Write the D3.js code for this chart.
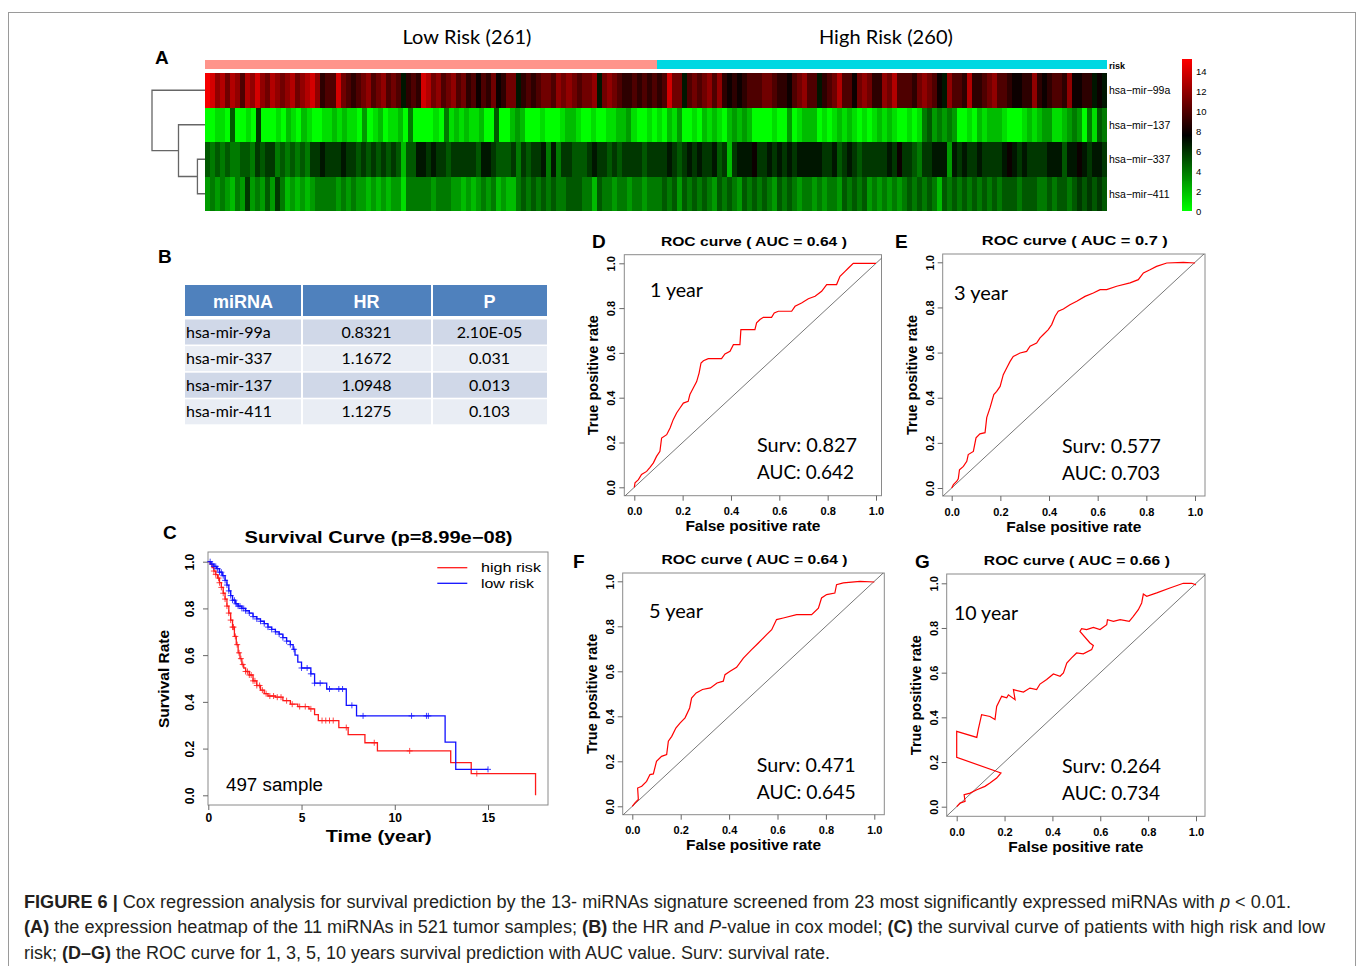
<!DOCTYPE html>
<html>
<head>
<meta charset="utf-8">
<script src="https://cdn.jsdelivr.net/npm/d3@7"></script>
<style>
body { margin: 0; background: #fff; }
svg text { font-family: "Liberation Sans", Arial, sans-serif; }
</style>
</head>
<body>
<script>
// ---- data ----
var groupNames = ["Low Risk (261)", "High Risk (260)"];
var groupSizes = [261, 260];
var heatRows = ["hsa\u2212mir\u221299a", "hsa\u2212mir\u2212137", "hsa\u2212mir\u2212337", "hsa\u2212mir\u2212411"];
// one hex digit = expression level 0..15, low risk samples then high risk samples
var heatLow = [
  "fecdbdcadcecbdcbcdbcdec9aaeba9abcabcaba79a9edbcabcab9a8a9b89bb79a9abbacbcbabbc7bcba99a9a9a",
  "00110500106000102102100112121103012011204000010412121120050023200010001221001001122310010",
  "545454455465664545454667666766565656565255776766566666577655564656674746655567665656666566",
  "343432436343536423232344443434332323233144444344433232343423224545454544555442544344344344"
];
var heatHigh = [
  "9aebb7ababcac98989aaabba998abcaa79abdaa8bcb99cbdaaa9bcba87caa9d99abcaa98899c989aa9c8899787",
  "102130010212102323200001003012220101212101012121001014534343001021222100012123311234304154",
  "667656767667562677786676767677777667567656666676866546677737676676666787676666777577876776",
  "454535454543545435454543545434434344354545343434345454542545454545454555455544545545656565"
];
var dendroHeights = [1.0, 3.5, 7.0];   // merges: 337+411, 137+(..), 99a+(..)
var colorTicks = [0, 2, 4, 6, 8, 10, 12, 14];

var tableHeader = ["miRNA", "HR", "P"];
var tableMirna = ["hsa-mir-99a", "hsa-mir-337", "hsa-mir-137", "hsa-mir-411"];
var tableHR = ["0.8321", "1.1672", "1.0948", "1.1275"];
var tableP = ["2.10E-05", "0.031", "0.013", "0.103"];

var highTime = [0, 0.1, 0.2, 0.3, 0.4, 0.5, 0.6, 0.7, 0.8, 0.9, 1.0, 1.1, 1.2, 1.3, 1.4, 1.5, 1.6, 1.7, 1.8, 1.9, 2.0, 2.2, 2.4, 2.6, 2.8, 3.0, 3.2, 3.6, 4.0, 4.4, 4.8, 5.4, 5.7, 5.9, 7.0, 7.5, 8.4, 9.07, 13.0, 14.1, 17.55];
var highSurv = [1.0, 0.99, 0.975, 0.96, 0.945, 0.93, 0.91, 0.89, 0.865, 0.84, 0.81, 0.78, 0.75, 0.72, 0.68, 0.645, 0.61, 0.585, 0.56, 0.545, 0.53, 0.515, 0.49, 0.47, 0.45, 0.435, 0.425, 0.42, 0.405, 0.39, 0.38, 0.37, 0.345, 0.32, 0.29, 0.26, 0.225, 0.19, 0.14, 0.093, 0.0];
var highCensor = [0.3, 0.4, 0.55, 0.6, 0.7, 0.8, 0.9, 1.0, 1.1, 1.2, 1.3, 1.35, 1.45, 1.55, 1.65, 1.75, 1.85, 2.0, 2.1, 2.2, 2.3, 2.4, 2.5, 2.6, 2.75, 2.9, 3.1, 3.3, 3.5, 3.7, 3.9, 4.2, 4.5, 4.9, 5.2, 5.5, 6.1, 6.3, 6.5, 6.7, 7.4, 8.9, 10.8, 14.4];
var lowTime = [0, 0.15, 0.3, 0.45, 0.6, 0.75, 0.9, 1.0, 1.1, 1.2, 1.3, 1.45, 1.6, 1.8, 2.0, 2.2, 2.4, 2.6, 2.8, 3.0, 3.2, 3.4, 3.6, 3.8, 4.0, 4.2, 4.4, 4.55, 4.65, 4.8, 5.0, 5.5, 5.7, 6.35, 7.4, 7.95, 12.7, 13.27, 15.0];
var lowSurv = [1.0, 0.99, 0.98, 0.97, 0.955, 0.94, 0.92, 0.9, 0.875, 0.855, 0.835, 0.82, 0.81, 0.8, 0.79, 0.78, 0.765, 0.755, 0.745, 0.735, 0.72, 0.71, 0.7, 0.69, 0.675, 0.66, 0.645, 0.625, 0.6, 0.57, 0.545, 0.52, 0.48, 0.455, 0.385, 0.34, 0.228, 0.111, 0.111];
var lowCensor = [0.1, 0.2, 0.3, 0.4, 0.5, 0.6, 0.7, 0.8, 0.9, 1.0, 1.1, 1.2, 1.3, 1.4, 1.5, 1.6, 1.7, 1.8, 1.9, 2.0, 2.2, 2.4, 2.6, 2.8, 3.0, 3.2, 3.4, 3.6, 3.8, 4.0, 4.2, 4.4, 4.6, 5.0, 5.3, 5.5, 5.7, 6.0, 6.5, 7.0, 7.2, 7.7, 8.3, 10.9, 11.7, 11.8, 15.0];
var survTicksX = [0, 5, 10, 15];
var survTicksY = [0, 0.2, 0.4, 0.6, 0.8, 1.0];

var rocYears = ["1 year", "3 year", "5 year", "10 year"];
var rocTitleAUC = ["0.64", "0.7", "0.64", "0.66"];
var rocSurv = ["0.827", "0.577", "0.471", "0.264"];
var rocAUC = ["0.642", "0.703", "0.645", "0.734"];
var roc1FPR = [0, 0.003, 0.017, 0.03, 0.051, 0.065, 0.079, 0.092, 0.106, 0.113, 0.134, 0.148, 0.161, 0.175, 0.189, 0.203, 0.223, 0.23, 0.244, 0.258, 0.268, 0.276, 0.286, 0.306, 0.361, 0.375, 0.396, 0.41, 0.437, 0.441, 0.499, 0.506, 0.52, 0.534, 0.568, 0.579, 0.596, 0.651, 0.665, 0.692, 0.72, 0.748, 0.775, 0.796, 0.837, 0.851, 0.872, 0.886, 0.906, 1.0];
var roc1TPR = [0, 0.02, 0.034, 0.057, 0.071, 0.089, 0.109, 0.138, 0.161, 0.22, 0.235, 0.265, 0.302, 0.332, 0.354, 0.376, 0.384, 0.414, 0.443, 0.472, 0.51, 0.555, 0.565, 0.574, 0.574, 0.595, 0.607, 0.637, 0.637, 0.704, 0.704, 0.734, 0.749, 0.759, 0.759, 0.778, 0.786, 0.786, 0.808, 0.823, 0.842, 0.853, 0.875, 0.905, 0.905, 0.942, 0.964, 0.979, 1.0, 1.0];
var roc3FPR = [0, 0.007, 0.021, 0.027, 0.032, 0.048, 0.062, 0.068, 0.089, 0.1, 0.116, 0.137, 0.144, 0.158, 0.173, 0.185, 0.199, 0.212, 0.226, 0.24, 0.253, 0.281, 0.308, 0.322, 0.349, 0.363, 0.377, 0.397, 0.411, 0.425, 0.438, 0.459, 0.486, 0.514, 0.548, 0.582, 0.61, 0.637, 0.678, 0.733, 0.767, 0.788, 0.815, 0.842, 0.884, 0.952, 1.0];
var roc3TPR = [0, 0.015, 0.03, 0.041, 0.081, 0.096, 0.118, 0.148, 0.162, 0.222, 0.24, 0.245, 0.312, 0.357, 0.414, 0.428, 0.45, 0.502, 0.532, 0.561, 0.583, 0.598, 0.605, 0.628, 0.642, 0.665, 0.68, 0.702, 0.724, 0.761, 0.783, 0.793, 0.812, 0.827, 0.849, 0.864, 0.879, 0.879, 0.894, 0.909, 0.923, 0.953, 0.967, 0.982, 0.997, 1.0, 0.997];
var roc5FPR = [0, 0.011, 0.025, 0.022, 0.039, 0.059, 0.073, 0.087, 0.1, 0.121, 0.142, 0.149, 0.163, 0.18, 0.197, 0.218, 0.237, 0.245, 0.264, 0.29, 0.323, 0.35, 0.376, 0.383, 0.404, 0.431, 0.459, 0.493, 0.521, 0.555, 0.576, 0.596, 0.624, 0.679, 0.741, 0.769, 0.782, 0.803, 0.837, 0.844, 0.872, 0.941, 1.0];
var roc5TPR = [0, 0.015, 0.03, 0.081, 0.089, 0.111, 0.141, 0.144, 0.2, 0.222, 0.23, 0.289, 0.311, 0.348, 0.37, 0.393, 0.437, 0.481, 0.504, 0.519, 0.526, 0.548, 0.556, 0.585, 0.6, 0.618, 0.659, 0.696, 0.726, 0.763, 0.785, 0.83, 0.837, 0.852, 0.852, 0.881, 0.926, 0.941, 0.948, 0.985, 0.993, 1.0, 0.997];
var roc10FPR = [0, 0.014, 0.035, 0.031, 0.056, 0.084, 0.118, 0.139, 0.167, 0.185, 0, 0, 0.084, 0.09, 0.104, 0.139, 0.16, 0.167, 0.188, 0.209, 0.216, 0.244, 0.237, 0.279, 0.306, 0.334, 0.348, 0.376, 0.404, 0.432, 0.446, 0.46, 0.48, 0.501, 0.529, 0.564, 0.571, 0.557, 0.515, 0.522, 0.543, 0.571, 0.599, 0.627, 0.63, 0.655, 0.683, 0.721, 0.738, 0.759, 0.773, 0.78, 0.794, 0.836, 0.891, 0.947, 0.982, 1.0];
var roc10TPR = [0, 0.016, 0.024, 0.054, 0.061, 0.076, 0.091, 0.106, 0.128, 0.151, 0.221, 0.337, 0.31, 0.345, 0.412, 0.404, 0.39, 0.449, 0.494, 0.487, 0.501, 0.479, 0.524, 0.513, 0.531, 0.524, 0.549, 0.569, 0.594, 0.584, 0.599, 0.643, 0.666, 0.688, 0.684, 0.703, 0.722, 0.733, 0.785, 0.797, 0.793, 0.803, 0.793, 0.815, 0.837, 0.83, 0.837, 0.83, 0.852, 0.882, 0.912, 0.952, 0.942, 0.957, 0.979, 1.0, 1.0, 0.993];
var rocTicks = [0, 0.2, 0.4, 0.6, 0.8, 1.0];

var svg = d3.select("body").append("svg").attr("width", 1357).attr("height", 966);
svg.append("rect").attr("x", 8.5).attr("y", 12.5).attr("width", 1347).attr("height", 1000)
  .attr("fill", "none").attr("stroke", "#9a9a9a");

function letter(t, x, y) {
  svg.append("text").attr("x", x).attr("y", y).attr("font-size", 19).attr("font-weight", "bold").text(t);
}

// ---- A: heatmap ----
var total = groupSizes[0] + groupSizes[1];
var hx = d3.scaleLinear().domain([0, total]).range([205, 1107]);
var hy = d3.scaleBand().domain(heatRows).range([73, 211]);
var heatColor = d3.scaleLinear().domain([0, 7.65, 15.3]).range(["#00ff00", "#000000", "#ff0000"]).clamp(true);

var hm = svg.append("g").attr("shape-rendering", "crispEdges");
heatRows.forEach(function(name, r) {
  [[heatLow[r], 0, groupSizes[0]], [heatHigh[r], groupSizes[0], groupSizes[1]]].forEach(function(seg) {
    var vals = seg[0].split("").map(function(c) { return parseInt(c, 16); });
    var step = seg[2] / vals.length;
    hm.selectAll(null).data(vals).enter().append("rect")
      .attr("x", function(d, i) { return hx(seg[1] + i * step); })
      .attr("width", function(d, i) { return hx(seg[1] + (i + 1) * step) - hx(seg[1] + i * step) + 0.4; })
      .attr("y", hy(name)).attr("height", hy.bandwidth())
      .attr("fill", function(d) { return heatColor(d); });
  });
});
hm.selectAll(".risk").data(groupSizes).enter().append("rect")
  .attr("x", function(d, i) { return hx(i === 0 ? 0 : groupSizes[0]); })
  .attr("width", function(d) { return hx(d) - hx(0); })
  .attr("y", 60).attr("height", 9)
  .attr("fill", function(d, i) { return i === 0 ? "#ff948b" : "#00d8e2"; });

svg.selectAll(".grp").data(groupNames).enter().append("text")
  .attr("x", function(d, i) { return hx(i === 0 ? groupSizes[0] / 2 : groupSizes[0] + groupSizes[1] / 2) + (i === 0 ? 36 : 4); })
  .attr("y", 44).attr("text-anchor", "middle").attr("font-size", 20)
  .style("font-family", "Lato, 'Open Sans', sans-serif")
  .attr("textLength", function(d, i) { return i === 0 ? 129 : 134; })
  .text(function(d) { return d; });

svg.append("text").attr("x", 1109).attr("y", 69).attr("font-size", 9).attr("font-weight", "bold").text("risk");
svg.selectAll(".rowlab").data(heatRows).enter().append("text")
  .attr("x", 1109).attr("y", function(d) { return hy(d) + hy.bandwidth() / 2 + 4; })
  .attr("font-size", 10.5).text(function(d) { return d; });

// dendrogram
var dx = d3.scaleLinear().domain([0, dendroHeights[2]]).range([205, 152]);
var yc = heatRows.map(function(d) { return hy(d) + hy.bandwidth() / 2; });
function merge(ya, yb, ha, hb, h) {
  return "M" + dx(ha) + "," + ya + "H" + dx(h) + "V" + yb + "H" + dx(hb);
}
var n1 = (yc[2] + yc[3]) / 2, n2 = (yc[1] + n1) / 2;
svg.append("path").attr("fill", "none").attr("stroke", "#666").attr("stroke-width", 1.3)
  .attr("d", merge(yc[2], yc[3], 0, 0, dendroHeights[0]) +
             merge(yc[1], n1, 0, dendroHeights[0], dendroHeights[1]) +
             merge(yc[0], n2, 0, dendroHeights[1], dendroHeights[2]));

// colour key
var cy = d3.scaleLinear().domain([0, 15.3]).range([211, 59]);
svg.append("g").attr("shape-rendering", "crispEdges").selectAll("rect").data(d3.range(0, 15.3, 0.1)).enter().append("rect")
  .attr("x", 1182).attr("width", 10).attr("y", function(d) { return cy(d + 0.1); })
  .attr("height", function(d) { return cy(d) - cy(d + 0.1) + 0.3; })
  .attr("fill", function(d) { return heatColor(d + 0.05); });
svg.selectAll(".ck").data(colorTicks).enter().append("text")
  .attr("x", 1196).attr("y", function(d) { return cy(d) + 3.5; }).attr("font-size", 9.5)
  .text(function(d) { return d; });

letter("A", 155, 64);

// ---- B: table ----
letter("B", 158, 263);
var colX = [185, 302, 432], colW = [116, 129, 115];
var tb = svg.append("g");
tableHeader.forEach(function(h, c) {
  tb.append("rect").attr("x", colX[c] + (c ? 1 : 0)).attr("y", 285).attr("width", colW[c] - (c ? 1 : 0)).attr("height", 31).attr("fill", "#4f81bd");
  tb.append("text").attr("x", colX[c] + colW[c] / 2).attr("y", 307.5).attr("text-anchor", "middle")
    .attr("fill", "#fff").attr("font-weight", "bold").attr("font-size", 18).text(h);
});
var tableRows = d3.zip(tableMirna, tableHR, tableP);
tableRows.forEach(function(row, r) {
  var y = 319.5 + r * 26.6;
  row.forEach(function(v, c) {
    tb.append("rect").attr("x", colX[c] + (c ? 1 : 0)).attr("y", y).attr("width", colW[c] - (c ? 1 : 0)).attr("height", 25)
      .attr("fill", r % 2 === 0 ? "#d0d8e8" : "#e9edf4");
    tb.append("text").attr("x", c === 0 ? colX[c] + 1 : colX[c] + colW[c] / 2).attr("y", y + 18)
      .attr("text-anchor", c === 0 ? "start" : "middle").attr("font-size", 16)
      .style("font-family", "Lato, 'Open Sans', sans-serif").text(v);
  });
});

// ---- shared frame helper (R base-graphics look) ----
function frame(g, xs, ys, box, xt, yt, opt) {
  g.append("rect").attr("x", box[0]).attr("y", box[1]).attr("width", box[2] - box[0]).attr("height", box[3] - box[1])
    .attr("fill", "none").attr("stroke", "#8a8a8a").attr("stroke-width", 1);
  var ax = g.append("g").attr("transform", "translate(0," + box[3] + ")")
    .call(d3.axisBottom(xs).tickValues(xt).tickSize(5).tickSizeOuter(0).tickFormat(opt.fmt));
  ax.select(".domain").remove();
  ax.selectAll("line").attr("stroke", "#666");
  ax.selectAll("text").attr("y", opt.xlab).attr("dy", 0).attr("font-size", opt.fs).attr("font-weight", "bold")
    .attr("fill", "#000").style("font-family", "'Liberation Sans', Arial, sans-serif");
  var ay = g.append("g").attr("transform", "translate(" + box[0] + ",0)")
    .call(d3.axisLeft(ys).tickValues(yt).tickSize(5).tickSizeOuter(0).tickFormat(d3.format(".1f")));
  ay.select(".domain").remove();
  ay.selectAll("line").attr("stroke", "#666");
  ay.selectAll("text").attr("x", 0).attr("y", 0).attr("dy", "0.35em").attr("text-anchor", "middle")
    .attr("transform", "translate(" + (-opt.ylab) + ",0) rotate(-90)")
    .attr("font-size", opt.fs).attr("font-weight", "bold").attr("fill", "#000")
    .style("font-family", "'Liberation Sans', Arial, sans-serif");
}

// ---- C: survival curve ----
letter("C", 163, 539);
var sx = d3.scaleLinear().domain([0, 15]).range([208.3, 488]);
var sy = d3.scaleLinear().domain([0, 1]).range([795.3, 561.7]);
var gc = svg.append("g");
var sbox = [208, 552, 548, 805];
frame(gc, sx, sy, sbox, survTicksX, survTicksY, { fmt: d3.format("d"), xlab: 17, ylab: 18, fs: 12 });
gc.append("text").attr("x", 378.5).attr("y", 543).attr("text-anchor", "middle").attr("font-size", 16)
  .attr("font-weight", "bold").attr("textLength", 268).attr("lengthAdjust", "spacingAndGlyphs")
  .text("Survival Curve (p=8.99e\u221208)");
gc.append("text").attr("x", 378.7).attr("y", 841.7).attr("text-anchor", "middle").attr("font-size", 16)
  .attr("font-weight", "bold").attr("textLength", 106).attr("lengthAdjust", "spacingAndGlyphs").text("Time (year)");
gc.append("text").attr("transform", "translate(169,679) rotate(-90)").attr("text-anchor", "middle")
  .attr("font-size", 15.5).attr("font-weight", "bold").text("Survival Rate");

var kmLine = d3.line().x(function(d) { return sx(d[0]); }).y(function(d) { return sy(d[1]); }).curve(d3.curveStepAfter);
function survAt(times, surv, t) {
  var i = d3.bisectRight(times, t) - 1;
  return surv[Math.max(0, i)];
}
[[highTime, highSurv, highCensor, "#ff1a1a"], [lowTime, lowSurv, lowCensor, "#1010ff"]].forEach(function(k) {
  gc.append("path").attr("d", kmLine(d3.zip(k[0], k[1]))).attr("fill", "none").attr("stroke", k[3]).attr("stroke-width", 1.3);
  gc.selectAll(null).data(k[2]).enter().append("path")
    .attr("d", function(t) { var x = sx(t), y = sy(survAt(k[0], k[1], t)); return "M" + (x - 3) + "," + y + "H" + (x + 3) + "M" + x + "," + (y - 3) + "V" + (y + 3); })
    .attr("stroke", k[3]).attr("stroke-width", 1).attr("opacity", 0.8);
});
var legendNames = ["high risk", "low risk"], legendCols = ["#ff1a1a", "#1010ff"], legendLen = [60, 53];
legendNames.forEach(function(n, i) {
  var y = 567.7 + i * 15.6;
  gc.append("line").attr("x1", 437.3).attr("x2", 467.3).attr("y1", y).attr("y2", y).attr("stroke", legendCols[i]).attr("stroke-width", 1.3);
  gc.append("text").attr("x", 481).attr("y", y + 4.5).attr("font-size", 13).attr("textLength", legendLen[i])
    .attr("lengthAdjust", "spacingAndGlyphs").text(n);
});
gc.append("text").attr("x", 226).attr("y", 791).attr("font-size", 18).attr("textLength", 97)
  .attr("lengthAdjust", "spacingAndGlyphs").text("497 sample");

// ---- D-G: ROC panels ----
var panels = [
  { L: "D", lx: 592, ly: 248, fpr: roc1FPR, tpr: roc1TPR, xr: [634.3, 876], yr: [487.3, 263.3], box: [624.3, 254.7, 881.5, 495.7],
    yearPos: [650, 297, 53], survPos: [757, 452, 100, 97] },
  { L: "E", lx: 895, ly: 248, fpr: roc3FPR, tpr: roc3TPR, xr: [951.7, 1195], yr: [488, 262.3], box: [942.7, 254, 1205, 496],
    yearPos: [954, 299.5, 54], survPos: [1062, 453, 99, 98] },
  { L: "F", lx: 573, ly: 568, fpr: roc5FPR, tpr: roc5TPR, xr: [632.3, 874.3], yr: [806.3, 581.3], box: [622.7, 573, 884.3, 814.7],
    yearPos: [649, 618, 54], survPos: [756.7, 772, 99, 99] },
  { L: "G", lx: 915, ly: 568, fpr: roc10FPR, tpr: roc10TPR, xr: [956.7, 1196], yr: [806.7, 583.3], box: [946.7, 574, 1205, 816.3],
    yearPos: [954, 619.7, 64], survPos: [1062, 773, 99, 98] }
];
panels.forEach(function(p, k) {
  letter(p.L, p.lx, p.ly);
  var g = svg.append("g");
  var xs = d3.scaleLinear().domain([0, 1]).range(p.xr);
  var ys = d3.scaleLinear().domain([0, 1]).range(p.yr);
  var b = p.box;
  var cid = "clip" + k;
  svg.append("clipPath").attr("id", cid).append("rect").attr("x", b[0]).attr("y", b[1]).attr("width", b[2] - b[0]).attr("height", b[3] - b[1]);
  frame(g, xs, ys, b, rocTicks, rocTicks, { fmt: d3.format(".1f"), xlab: 19.5, ylab: 13, fs: 11 });
  g.append("line").attr("clip-path", "url(#" + cid + ")")
    .attr("x1", xs(-0.1)).attr("y1", ys(-0.1)).attr("x2", xs(1.1)).attr("y2", ys(1.1))
    .attr("stroke", "#555").attr("stroke-width", 0.8);
  g.append("path").attr("d", d3.line().x(function(d) { return xs(d[0]); }).y(function(d) { return ys(d[1]); })(d3.zip(p.fpr, p.tpr)))
    .attr("fill", "none").attr("stroke", "#ff0000").attr("stroke-width", 1.2);
  var cx = (b[0] + b[2]) / 2;
  g.append("text").attr("x", cx + 1).attr("y", b[1] - 9).attr("text-anchor", "middle").attr("font-size", 13)
    .attr("font-weight", "bold").attr("textLength", 186).attr("lengthAdjust", "spacingAndGlyphs")
    .text("ROC curve ( AUC =  " + rocTitleAUC[k] + " )");
  g.append("text").attr("x", cx).attr("y", b[3] + 35.5).attr("text-anchor", "middle").attr("font-size", 14)
    .attr("font-weight", "bold").attr("textLength", 135).attr("lengthAdjust", "spacingAndGlyphs").text("False positive rate");
  g.append("text").attr("transform", "translate(" + (b[0] - 26) + "," + ((b[1] + b[3]) / 2) + ") rotate(-90)")
    .attr("text-anchor", "middle").attr("font-size", 14.5).attr("font-weight", "bold").text("True positive rate");
  var calibri = "Lato, 'Open Sans', sans-serif";
  g.append("text").attr("x", p.yearPos[0]).attr("y", p.yearPos[1]).attr("font-size", 19).style("font-family", calibri)
    .attr("textLength", p.yearPos[2]).attr("lengthAdjust", "spacingAndGlyphs").text(rocYears[k]);
  g.append("text").attr("x", p.survPos[0]).attr("y", p.survPos[1]).attr("font-size", 19).style("font-family", calibri)
    .attr("textLength", p.survPos[2]).attr("lengthAdjust", "spacingAndGlyphs").text("Surv: " + rocSurv[k]);
  g.append("text").attr("x", p.survPos[0]).attr("y", p.survPos[1] + 26.5).attr("font-size", 19).style("font-family", calibri)
    .attr("textLength", p.survPos[3]).attr("lengthAdjust", "spacingAndGlyphs").text("AUC: " + rocAUC[k]);
});

// ---- caption ----
var captionLines = [
  [["FIGURE 6 |", "b"], [" Cox regression analysis for survival prediction by the 13- miRNAs signature screened from 23 most significantly expressed miRNAs with ", ""], ["p", "i"], [" < 0.01.", ""]],
  [["(A)", "b"], [" the expression heatmap of the 11 miRNAs in 521 tumor samples; ", ""], ["(B)", "b"], [" the HR and ", ""], ["P", "i"], ["-value in cox model; ", ""], ["(C)", "b"], [" the survival curve of patients with high risk and low", ""]],
  [["risk; ", ""], ["(D\u2013G)", "b"], [" the ROC curve for 1, 3, 5, 10 years survival prediction with AUC value. Surv: survival rate.", ""]]
];
var captionLen = [1267, 1301, 806];
captionLines.forEach(function(line, i) {
  var t = svg.append("text").attr("x", 24).attr("y", 907.5 + i * 25.5).attr("font-size", 17.5)
    .attr("fill", "#231f20").attr("textLength", captionLen[i]).attr("lengthAdjust", "spacingAndGlyphs")
    .style("font-family", "'Liberation Sans', Arial, sans-serif");
  line.forEach(function(s) {
    t.append("tspan").attr("font-weight", s[1] === "b" ? "bold" : null)
      .attr("font-style", s[1] === "i" ? "italic" : null).text(s[0]);
  });
});
</script>
</body>
</html>
